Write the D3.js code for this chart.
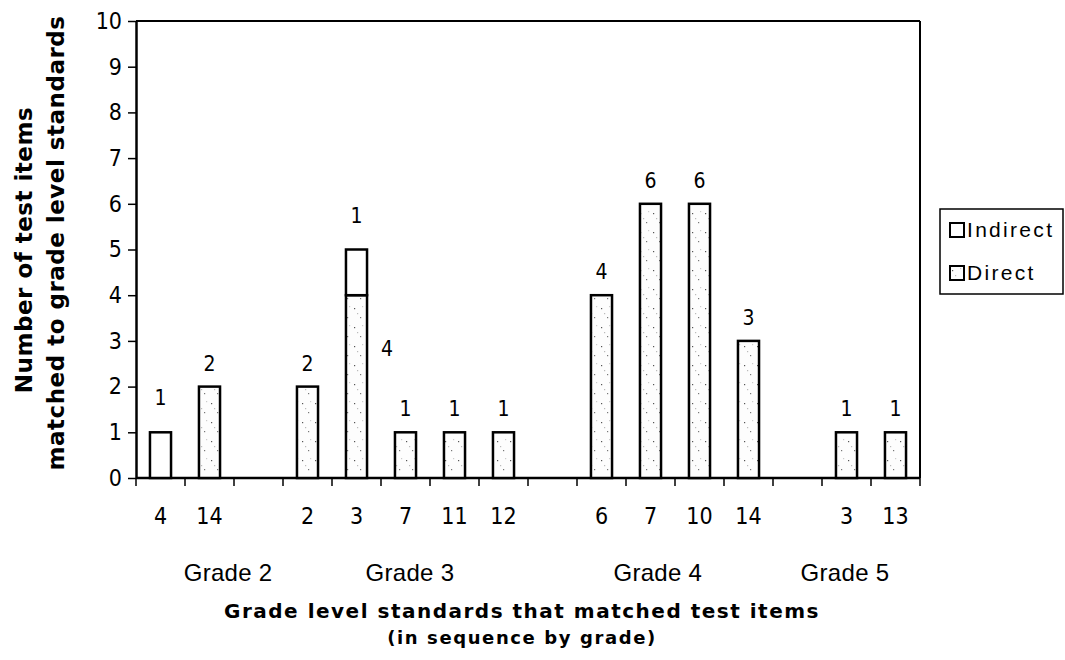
<!DOCTYPE html>
<html>
<head>
<meta charset="utf-8">
<script src="https://cdn.jsdelivr.net/npm/d3@7/dist/d3.min.js"></script>
<style>
  html, body { margin: 0; padding: 0; background: #fff; }
  svg { display: block; }
</style>
</head>
<body>
<svg id="chart" width="1065" height="660"></svg>
<script>
// ---- data ----
const standards = ["4","14","","2","3","7","11","12","","6","7","10","14","","3","13"];
const gradeLabels = ["Grade 2","Grade 3","Grade 4","Grade 5"];
const directValues   = [0,2,0,2,4,1,1,1,0,4,6,6,3,0,1,1];
const indirectValues = [1,0,0,0,1,0,0,0,0,0,0,0,0,0,0,0];
const yTicks = [0,1,2,3,4,5,6,7,8,9,10];
const seriesNames = ["Indirect","Direct"];

// ---- layout ----
const plot = { left: 136, right: 920, top: 21, bottom: 478 };
const gradeLabelSlot = [1.88, 5.59, 10.65, 14.47]; // label anchors in slot units
const numFont = "DejaVu Sans Condensed, DejaVu Sans";

const svg = d3.select("#chart");
const defs = svg.append("defs");
const pat = defs.append("pattern").attr("id","stipple")
  .attr("patternUnits","userSpaceOnUse").attr("width",13).attr("height",19);
pat.append("rect").attr("width",13).attr("height",19).attr("fill","#fdfdfd");
[[3,4,"#555"],[9,13,"#777"],[6,9,"#bbb"],[11,2,"#ccc"]].forEach(([cx,cy,c])=>{
  pat.append("rect").attr("x",cx).attr("y",cy).attr("width",1.2).attr("height",1.2).attr("fill",c);
});

const x = d3.scaleBand().domain(d3.range(standards.length))
  .range([plot.left, plot.right]).paddingInner(0).paddingOuter(0);
const y = d3.scaleLinear().domain([0,10]).range([plot.bottom, plot.top]);
const slot = d3.scaleLinear().domain([0, standards.length]).range([plot.left, plot.right]);
const bw = x.step() * 0.43;

// frame
svg.append("line").attr("x1",plot.left).attr("x2",plot.right).attr("y1",plot.top).attr("y2",plot.top)
  .attr("stroke","#000").attr("stroke-width",2);
svg.append("line").attr("x1",plot.right).attr("x2",plot.right).attr("y1",plot.top).attr("y2",plot.bottom)
  .attr("stroke","#000").attr("stroke-width",2);

// y axis
const yAxis = d3.axisLeft(y).tickValues(yTicks).tickSize(8).tickPadding(6).tickSizeOuter(0);
const gy = svg.append("g").attr("transform",`translate(${plot.left},0)`).call(yAxis);
gy.select(".domain").attr("stroke","#000").attr("stroke-width",2.5);
gy.selectAll(".tick line").attr("stroke","#000").attr("stroke-width",1.5);
gy.selectAll(".tick text").attr("font-family",numFont).attr("font-size",23).attr("fill","#000");

// x axis (ticks at slot boundaries)
const gx = svg.append("g").attr("transform",`translate(0,${plot.bottom})`);
gx.append("line").attr("x1",plot.left).attr("x2",plot.right).attr("stroke","#000").attr("stroke-width",2.5);
gx.selectAll("line.tk").data(d3.range(standards.length+1)).join("line").attr("class","tk")
  .attr("x1",d=>slot(d)).attr("x2",d=>slot(d)).attr("y1",0).attr("y2",8)
  .attr("stroke","#000").attr("stroke-width",1.5);
gx.selectAll("text.cat").data(standards).join("text").attr("class","cat")
  .attr("x",(d,i)=>x(i)+x.bandwidth()/2).attr("y",46)
  .attr("text-anchor","middle").attr("font-family",numFont).attr("font-size",23)
  .text(d=>d);
gx.selectAll("text.grade").data(gradeLabels).join("text").attr("class","grade")
  .attr("x",(d,i)=>slot(gradeLabelSlot[i])).attr("y",103)
  .attr("text-anchor","middle").attr("font-family","Liberation Sans").attr("font-size",24)
  .attr("letter-spacing",0.3)
  .text(d=>d);

// bars
const bars = svg.append("g");
standards.forEach((s,i)=>{
  const x0 = x(i) + (x.bandwidth()-bw)/2;
  const d = directValues[i], ind = indirectValues[i];
  if (d > 0) {
    bars.append("rect").attr("x",x0).attr("y",y(d)).attr("width",bw).attr("height",y(0)-y(d))
      .attr("fill","url(#stipple)").attr("stroke","#000").attr("stroke-width",2.5);
  }
  if (ind > 0) {
    bars.append("rect").attr("x",x0).attr("y",y(d+ind)).attr("width",bw).attr("height",y(d)-y(d+ind))
      .attr("fill","#fff").attr("stroke","#000").attr("stroke-width",2.5);
  }
});

// value labels
const labels = svg.append("g").attr("font-family",numFont).attr("font-size",21).attr("text-anchor","middle");
standards.forEach((s,i)=>{
  const cx = x(i) + x.bandwidth()/2;
  const d = directValues[i], ind = indirectValues[i];
  if (ind > 0) {
    labels.append("text").attr("x",cx).attr("y",y(d+ind)-27).text(ind);
  }
  if (d > 0) {
    if (ind > 0) {
      labels.append("text").attr("x",cx+bw/2+20).attr("y",y(d*0.71)+8).text(d);
    } else {
      labels.append("text").attr("x",cx).attr("y",y(d)-16).text(d);
    }
  }
});

// legend
const lg = svg.append("g");
lg.append("rect").attr("x",940).attr("y",209).attr("width",123).attr("height",85)
  .attr("fill","#fff").attr("stroke","#000").attr("stroke-width",1.5);
seriesNames.forEach((n,k)=>{
  const base = 237 + k*43;
  lg.append("rect").attr("x",950).attr("y",base-14).attr("width",14).attr("height",14)
    .attr("fill", k===0 ? "#fff" : "url(#stipple)").attr("stroke","#000").attr("stroke-width",2);
  lg.append("text").attr("x",967).attr("y",base).attr("font-family","Liberation Sans")
    .attr("font-size",21).attr("letter-spacing",2.3).text(n);
});

// axis titles
svg.append("text").attr("transform","translate(32,250) rotate(-90)").attr("text-anchor","middle")
  .attr("font-family","DejaVu Sans").attr("font-weight","bold").attr("font-size",23)
  .attr("letter-spacing",0.5)
  .text("Number of test items");
svg.append("text").attr("transform","translate(64,243) rotate(-90)").attr("text-anchor","middle")
  .attr("font-family","DejaVu Sans").attr("font-weight","bold").attr("font-size",23)
  .attr("letter-spacing",0.5)
  .text("matched to grade level standards");
svg.append("text").attr("x",522).attr("y",618).attr("text-anchor","middle")
  .attr("font-family","DejaVu Sans").attr("font-weight","bold").attr("font-size",20)
  .attr("letter-spacing",1.5)
  .text("Grade level standards that matched test items");
svg.append("text").attr("x",522).attr("y",644).attr("text-anchor","middle")
  .attr("font-family","DejaVu Sans").attr("font-weight","bold").attr("font-size",18)
  .attr("letter-spacing",1.6)
  .text("(in sequence by grade)");
</script>
</body>
</html>
